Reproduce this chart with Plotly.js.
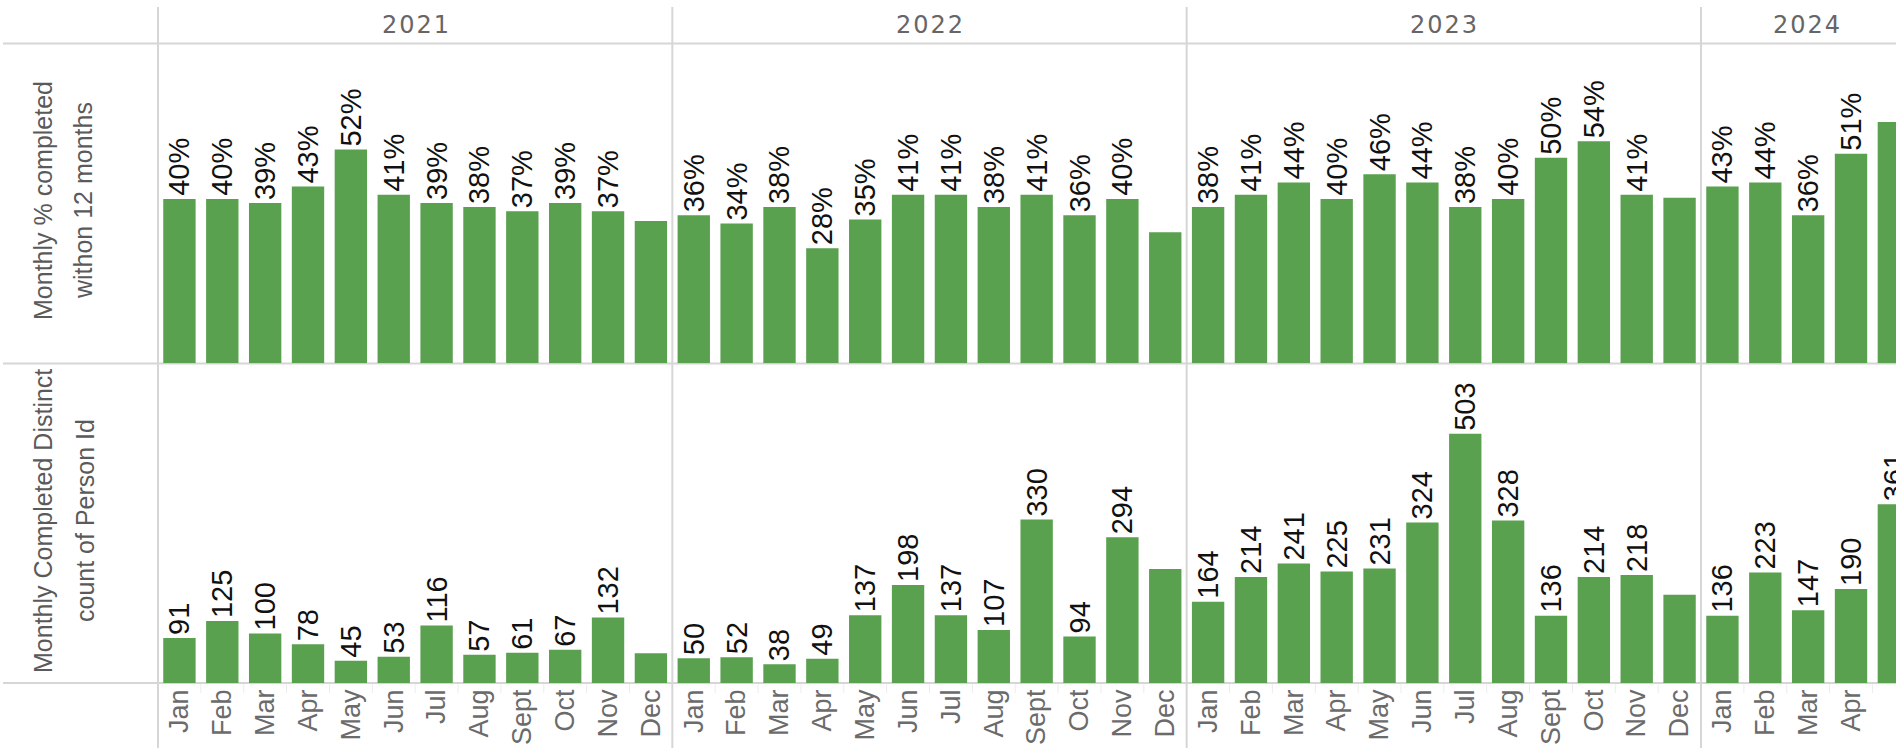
<!DOCTYPE html>
<html><head><meta charset="utf-8">
<script src="https://cdn.plot.ly/plotly-3.0.1.min.js"></script>
<style>html,body{margin:0;padding:0;background:#fff;overflow:hidden}</style>
</head><body><div id="chart" style="width:1896px;height:750px"></div>
<script>
// ---- data ----
const years = ['2021', '2022', '2023', '2024'];
const months = ['Jan', 'Feb', 'Mar', 'Apr', 'May', 'Jun', 'Jul', 'Aug', 'Sept', 'Oct', 'Nov', 'Dec'];

const pct2021 = [40, 40, 39, 43, 52, 41, 39, 38, 37, 39, 37, 34.6];
const pct2022 = [36, 34, 38, 28, 35, 41, 41, 38, 41, 36, 40, 31.9];
const pct2023 = [38, 41, 44, 40, 46, 44, 38, 40, 50, 54, 41, 40.3];
const pct2024 = [43, 44, 36, 51, 58.7];

const count2021 = [91, 125, 100, 78, 45, 53, 116, 57, 61, 67, 132, 60];
const count2022 = [50, 52, 38, 49, 137, 198, 137, 107, 330, 94, 294, 230];
const count2023 = [164, 214, 241, 225, 231, 324, 503, 328, 136, 214, 218, 178];
const count2024 = [136, 223, 147, 190, 361];

// labels that are not drawn in the original view
const hiddenPctLabels = ['2021 Dec', '2022 Dec', '2023 Dec', '2024 May'];
const hiddenCountLabels = ['2021 Dec', '2022 Dec', '2023 Dec'];

const rowTitleTop = ['Monthly % completed', 'withon 12 months'];
const rowTitleBottom = ['Monthly Completed Distinct', 'count of Person Id'];

// ---- build series ----
const pctByYear = [pct2021, pct2022, pct2023, pct2024];
const countByYear = [count2021, count2022, count2023, count2024];

const xs = [], pcts = [], counts = [], pctText = [], countText = [], tickVals = [], tickText = [];
years.forEach((yr, yi) => {
  pctByYear[yi].forEach((v, mi) => {
    const idx = yi * 12 + mi;
    const key = yr + ' ' + months[mi];
    xs.push(idx);
    pcts.push(v);
    counts.push(countByYear[yi][mi]);
    pctText.push(hiddenPctLabels.includes(key) ? '' : Math.round(v) + '%');
    countText.push(hiddenCountLabels.includes(key) ? '' : String(countByYear[yi][mi]));
    tickVals.push(idx);
    tickText.push(months[mi]);
  });
});

// ---- geometry (pixels of the 1896x750 view) ----
const W = 1896, H = 750;
const leftEdge = 158;
const slot = (1701 - 158) / 36;
const xMax = -0.5 + (W - leftEdge) / slot;
const py = p => 1 - p / H;   // pixel y -> paper
const pxp = p => p / W;      // pixel x -> paper

const green = '#59A14F';
const labelFont = {family: 'Liberation Sans Narrow, Arial Narrow, Liberation Sans, sans-serif', size: 29, color: '#111111'};
const grid = '#d6d6d6';

const traces = [
  {
    type: 'bar', x: xs, y: counts, xaxis: 'x', yaxis: 'y',
    marker: {color: green}, text: countText, textposition: 'outside', textangle: -90,
    textfont: labelFont, cliponaxis: false, constraintext: 'none', hoverinfo: 'skip'
  },
  {
    type: 'bar', x: xs, y: pcts, xaxis: 'x', yaxis: 'y2',
    marker: {color: green}, text: pctText, textposition: 'outside', textangle: -90,
    textfont: labelFont, cliponaxis: false, constraintext: 'none', hoverinfo: 'skip'
  }
];

const shapes = [];
function hline(yPix) {
  shapes.push({type: 'line', xref: 'paper', yref: 'paper', x0: pxp(3), x1: 1, y0: py(yPix), y1: py(yPix),
    line: {color: grid, width: 2}, layer: 'below'});
}
hline(43.5); hline(363.5); hline(683);
shapes.push({type: 'line', xref: 'paper', yref: 'paper', x0: pxp(leftEdge), x1: pxp(leftEdge), y0: py(7), y1: py(748),
  line: {color: grid, width: 2}, layer: 'below'});
for (let yi = 1; yi < years.length; yi++) {
  shapes.push({type: 'line', xref: 'x', yref: 'paper', x0: yi * 12 - 0.5, x1: yi * 12 - 0.5, y0: py(7), y1: py(748),
    line: {color: grid, width: 2}, layer: 'below'});
}
xs.forEach(i => {
  if ((i + 1) % 12 !== 0) {
    shapes.push({type: 'line', xref: 'x', yref: 'paper', x0: i + 0.5, x1: i + 0.5, y0: py(684), y1: py(693),
      line: {color: '#ececec', width: 1}, layer: 'below'});
  }
});

const annotations = [];
years.forEach((yr, yi) => {
  const centerPix = yi < 3 ? leftEdge + (yi * 12 + 6) * slot : (1701 + W) / 2 + 8;
  annotations.push({
    text: '<span style="letter-spacing:2px">' + yr + '</span>', xref: 'paper', yref: 'paper',
    x: pxp(centerPix + 1), y: py(25), xanchor: 'center', yanchor: 'middle', showarrow: false,
    font: {family: 'DejaVu Sans, Verdana, sans-serif', size: 24, color: '#666666'}
  });
});
const titleFont = {family: 'Liberation Sans, Arial, sans-serif', size: 25, color: '#5a5a5a'};
[[rowTitleTop, 201, [43, 83]], [rowTitleBottom, 521, [43, 85]]].forEach(([lines, cy, xsPix]) => {
  lines.forEach((t, k) => {
    annotations.push({text: t, xref: 'paper', yref: 'paper', x: pxp(xsPix[k]), y: py(cy),
      xanchor: 'center', yanchor: 'middle', textangle: -90, showarrow: false, font: titleFont});
  });
});

const layout = {
  width: W, height: H,
  margin: {l: 0, r: 0, t: 0, b: 0, pad: 0},
  paper_bgcolor: '#ffffff', plot_bgcolor: 'rgba(0,0,0,0)',
  barmode: 'overlay', bargap: 0.245, showlegend: false,
  xaxis: {
    domain: [pxp(leftEdge), 1], range: [-0.5, xMax], anchor: 'y',
    tickmode: 'array', tickvals: tickVals, ticktext: tickText, tickangle: -90,
    ticks: '', showgrid: false, zeroline: false, showline: false, automargin: false,
    tickfont: {family: 'Liberation Sans Narrow, Arial Narrow, Liberation Sans, sans-serif', size: 27, color: '#6b6b6b'},
    fixedrange: true
  },
  yaxis: {
    domain: [py(683), py(364)], range: [0, 644], visible: false, fixedrange: true
  },
  yaxis2: {
    domain: [py(363.3), py(43.5)], range: [0, 77.8], visible: false, fixedrange: true
  },
  shapes: shapes, annotations: annotations
};

Plotly.newPlot('chart', traces, layout, {staticPlot: true, displayModeBar: false});
</script>
</body></html>
